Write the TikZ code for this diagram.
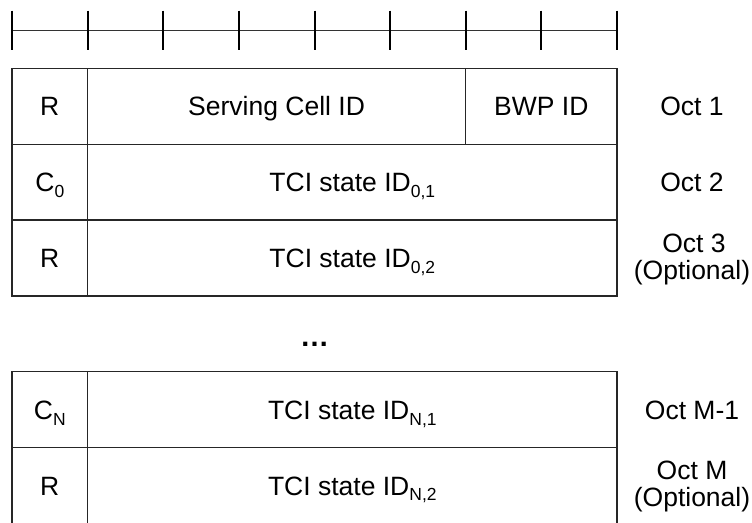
\documentclass[tikz,border=0pt]{standalone}
\usepackage{fontspec}
\setmainfont{Liberation Sans}
\newcommand\sbs[1]{\raisebox{-0.22em}{\fontsize{17.5}{18}\selectfont #1}}
\begin{document}
\begin{tikzpicture}[x=1pt,y=-1pt,
  grid/.style={draw=black!85,line width=1.2pt},
  tick/.style={draw=black,line width=2pt},
  rule/.style={draw=black!80,line width=1pt},
  lbl/.style={anchor=base,inner sep=0pt,font=\fontsize{26.5}{28}\selectfont},
]
\useasboundingbox (0,0) rectangle (752,522);
% ruler
\draw[rule] (12,30) -- (617,30);
\foreach \i in {0,...,8}{
  \draw[tick] ({12+75.625*\i},10.7) -- ({12+75.625*\i},50);
}
% upper block
\draw[grid] (12,68.3) rectangle (617,296);
\draw[grid] (12,144.1) -- (617,144.1);
\draw[grid] (12,220) -- (617,220);
\draw[grid] (87.6,68.3) -- (87.6,296);
\draw[grid] (465.6,68.3) -- (465.6,144.1);
% lower block
\draw[grid] (12,523.6) -- (12,371.7) -- (617,371.7) -- (617,523.6);
\draw[grid] (12,447.7) -- (617,447.7);
\draw[grid] (87.6,371.7) -- (87.6,523.6);
\draw[grid] (12,523.6) -- (617,523.6);
% texts row 1
\node[lbl] (r1) at (49.8,115.7) {R};
\node[lbl] (scid) at (276.6,115.7) {Serving Cell ID};
\node[lbl] (bwp) at (541.3,115.7) {BWP ID};
\node[lbl] (o1) at (692,115.7) {Oct 1};
% row 2
\node[lbl] (c0) at (49.8,191.5) {C\sbs{0}};
\node[lbl] (t01) at (352.3,191.5) {TCI state ID\sbs{0,1}};
\node[lbl] (o2) at (692,191.5) {Oct 2};
% row 3
\node[lbl] (r3) at (49.8,267.5) {R};
\node[lbl] (t02) at (352.3,267.5) {TCI state ID\sbs{0,2}};
\node[lbl] (o3a) at (694,252) {Oct 3};
\node[lbl] (o3b) at (692,279) {(Optional)};
% dots
\node[anchor=base,inner sep=0pt,font=\fontsize{29}{30}\selectfont\bfseries] (dots) at (314.5,346) {…};
% lower rows
\node[lbl] (cn) at (49.8,419.2) {C\sbs{N}};
\node[lbl] (tn1) at (352.3,419.2) {TCI state ID\sbs{N,1}};
\node[lbl] (om1) at (692,419.2) {Oct M-1};
\node[lbl] (rn) at (49.8,495.1) {R};
\node[lbl] (tn2) at (352.3,495.1) {TCI state ID\sbs{N,2}};
\node[lbl] (oma) at (692,479.5) {Oct M};
\node[lbl] (omb) at (692,506.5) {(Optional)};
\end{tikzpicture}
\end{document}
